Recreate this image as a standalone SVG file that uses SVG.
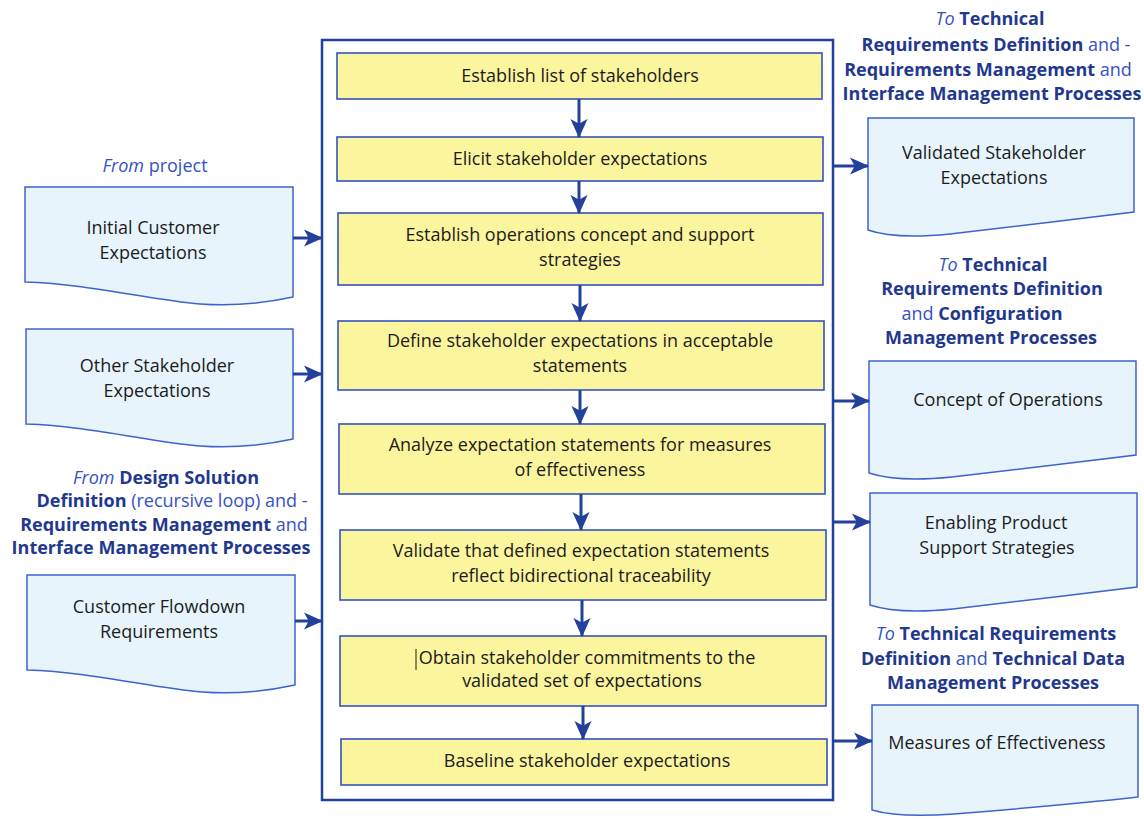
<svg xmlns="http://www.w3.org/2000/svg" width="1144" height="819" viewBox="0 0 1144 819">
<defs>
<style>
.step{fill:#fbf59e;stroke:#3453c0;stroke-width:1.6}
.doc{fill:#e7f4fb;stroke:#3f62cf;stroke-width:1.5}
.cont{fill:none;stroke:#22409d;stroke-width:2.5}
.t{font-family:"Open Sans","Noto Sans",sans-serif;font-size:18px;fill:#1c1c1c;text-anchor:middle}
.lb{font-family:"Open Sans","Noto Sans",sans-serif;font-size:18px;fill:#3552c4;text-anchor:middle}
.b{font-weight:bold;fill:#22388f}
.i{font-style:italic}
.conn line{stroke:#23409a;stroke-width:3;marker-end:url(#ah)}
</style>
<marker id="ah" viewBox="0 0 20 20" refX="19" refY="10" markerWidth="19" markerHeight="19" markerUnits="userSpaceOnUse" orient="auto">
<path d="M0,1 L20,10 L0,19 L5,10 Z" fill="#23409a"/>
</marker>
</defs>
<rect width="1144" height="819" fill="#ffffff"/>

<g id="container">
<rect class="cont" x="322" y="40" width="511" height="760"/>
</g>

<g id="step1"><rect class="step" x="337" y="53" width="485" height="46"/><text class="t" x="580" y="82">Establish list of stakeholders</text></g>
<g id="step2"><rect class="step" x="337" y="137" width="486" height="44"/><text class="t" x="580" y="165">Elicit stakeholder expectations</text></g>
<g id="step3"><rect class="step" x="338" y="213" width="485" height="72"/><text class="t" x="580" y="241">Establish operations concept and support</text><text class="t" x="580" y="266">strategies</text></g>
<g id="step4"><rect class="step" x="338" y="321" width="486" height="69"/><text class="t" x="580" y="347">Define stakeholder expectations in acceptable</text><text class="t" x="580" y="372">statements</text></g>
<g id="step5"><rect class="step" x="339" y="424" width="486" height="70"/><text class="t" x="580" y="451">Analyze expectation statements for measures</text><text class="t" x="580" y="476">of effectiveness</text></g>
<g id="step6"><rect class="step" x="340" y="530" width="486" height="70"/><text class="t" x="581" y="557">Validate that defined expectation statements</text><text class="t" x="581" y="582">reflect bidirectional traceability</text></g>
<g id="step7"><rect class="step" x="340" y="636" width="486" height="70"/><line x1="416" y1="649" x2="416" y2="670" stroke="#1c1c1c" stroke-width="1"/><text class="t" x="587" y="664">Obtain stakeholder commitments to the</text><text class="t" x="582" y="687">validated set of expectations</text></g>
<g id="step8"><rect class="step" x="341" y="739" width="486" height="46"/><text class="t" x="587" y="767">Baseline stakeholder expectations</text></g>

<g id="in1">
<text class="lb" x="155" y="172"><tspan class="i">From</tspan> project</text>
<path class="doc" d="M25,187 H293 V297 C270,302 240,307 200,304 C150,300 90,284 25,282 Z"/>
<text class="t" x="153" y="234">Initial Customer</text><text class="t" x="153" y="259">Expectations</text>
</g>
<g id="in2">
<path class="doc" d="M26,329 H293 V439 C270,444 240,449 200,446 C150,442 90,426 26,424 Z"/>
<text class="t" x="157" y="372">Other Stakeholder</text><text class="t" x="157" y="397">Expectations</text>
</g>
<g id="in3">
<text class="lb" x="166" y="484"><tspan class="i">From</tspan> <tspan class="b">Design Solution</tspan></text>
<text class="lb" x="172" y="507"><tspan class="b">Definition</tspan> (recursive loop) and -</text>
<text class="lb" x="164" y="531"><tspan class="b">Requirements Management</tspan> and</text>
<text class="lb" x="161" y="554"><tspan class="b">Interface Management Processes</tspan></text>
<path class="doc" d="M27,575 H295 V685 C272,690 242,695 202,692 C152,688 92,672 27,670 Z"/>
<text class="t" x="159" y="613">Customer Flowdown</text><text class="t" x="159" y="638">Requirements</text>
</g>

<g id="out1">
<text class="lb" x="990" y="25"><tspan class="i">To</tspan> <tspan class="b">Technical</tspan></text>
<text class="lb" x="996" y="51"><tspan class="b">Requirements Definition</tspan> and -</text>
<text class="lb" x="988" y="76"><tspan class="b">Requirements Management</tspan> and</text>
<text class="lb" x="992" y="100"><tspan class="b">Interface Management Processes</tspan></text>
<path class="doc" d="M868,118 H1134 V212 C1080,219 1000,228 950,234 C910,238 885,236 868,230 Z"/>
<text class="t" x="994" y="159">Validated Stakeholder</text><text class="t" x="994" y="184">Expectations</text>
</g>
<g id="out2">
<text class="lb" x="993" y="271"><tspan class="i">To</tspan> <tspan class="b">Technical</tspan></text>
<text class="lb" x="992" y="295"><tspan class="b">Requirements Definition</tspan></text>
<text class="lb" x="982" y="320">and <tspan class="b">Configuration</tspan></text>
<text class="lb" x="991" y="344"><tspan class="b">Management Processes</tspan></text>
<path class="doc" d="M869,361 H1136 V455 C1082,462 1002,471 952,477 C912,481 887,479 869,473 Z"/>
<text class="t" x="1008" y="406">Concept of Operations</text>
</g>
<g id="out3">
<path class="doc" d="M870,493 H1137 V587 C1083,594 1003,603 953,609 C913,613 888,611 870,605 Z"/>
<text class="t" x="996" y="529">Enabling Product</text><text class="t" x="997" y="554">Support Strategies</text>
</g>
<g id="out4">
<text class="lb" x="996" y="640"><tspan class="i">To</tspan> <tspan class="b">Technical Requirements</tspan></text>
<text class="lb" x="993" y="665"><tspan class="b">Definition</tspan> and <tspan class="b">Technical Data</tspan></text>
<text class="lb" x="993" y="689"><tspan class="b">Management Processes</tspan></text>
<path class="doc" d="M872,705 H1138 V797 C1084,803 1004,810 954,814 C914,817 889,815 872,810 Z"/>
<text class="t" x="997" y="749">Measures of Effectiveness</text>
</g>

<g id="connectors" class="conn">
<line x1="579" y1="99" x2="579" y2="137"/>
<line x1="579" y1="181" x2="579" y2="213"/>
<line x1="580" y1="285" x2="580" y2="321"/>
<line x1="580" y1="390" x2="580" y2="424"/>
<line x1="581" y1="494" x2="581" y2="530"/>
<line x1="582" y1="600" x2="582" y2="636"/>
<line x1="583" y1="706" x2="583" y2="739"/>
<line x1="293" y1="238" x2="322" y2="238"/>
<line x1="293" y1="374" x2="322" y2="374"/>
<line x1="295" y1="621" x2="322" y2="621"/>
<line x1="833" y1="166" x2="868" y2="166"/>
<line x1="833" y1="401" x2="869" y2="401"/>
<line x1="833" y1="522" x2="870" y2="522"/>
<line x1="833" y1="741" x2="872" y2="741"/>
</g>
</svg>
